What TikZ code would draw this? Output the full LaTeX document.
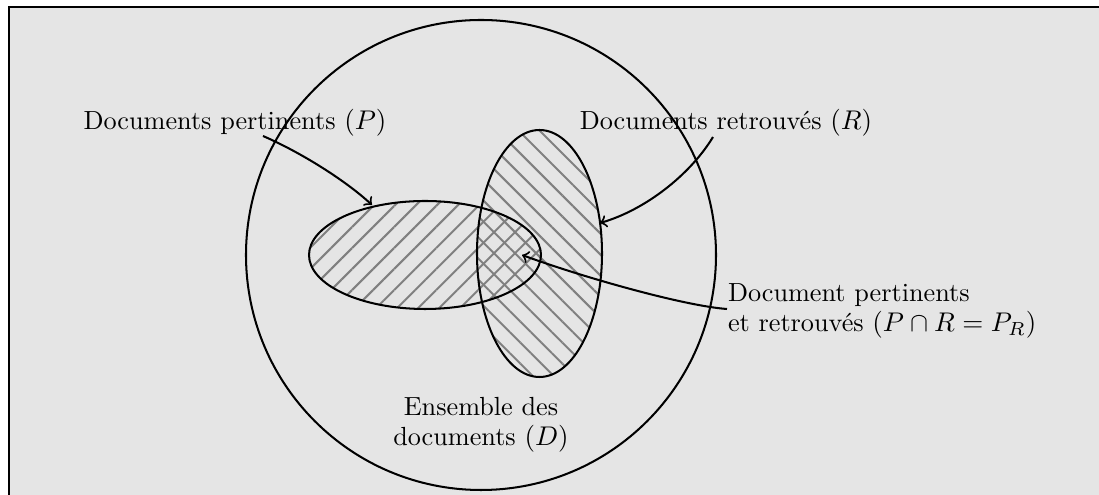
\documentclass[tikz,border=0pt]{standalone}
\usetikzlibrary{patterns.meta}
\definecolor{bggray}{RGB}{229,229,229}
\definecolor{hatch}{RGB}{128,128,128}
\begin{document}
\begin{tikzpicture}[x=0.37pt,y=-0.37pt,line width=0.75pt,
  lbl/.style={inner sep=0pt,font=\fontsize{9.7pt}{11.1pt}\selectfont},
  conn/.style={->,line width=0.75pt},
  hatchP/.style={pattern={Lines[angle=45,distance=5.5pt,line width=0.75pt]},pattern color=hatch},
  hatchR/.style={pattern={Lines[angle=-45,distance=5.5pt,line width=0.75pt]},pattern color=hatch}]
\useasboundingbox (0,0) rectangle (1099,495);
\draw[fill=bggray] (9,7) rectangle (1120,520);
\draw (481,255) circle[radius=235];
\fill[hatchP] (425,255) ellipse[x radius=116,y radius=54];
\fill[hatchR] (539.5,253.5) ellipse[x radius=62.5,y radius=123.5];
\draw (425,255) ellipse[x radius=116,y radius=54];
\draw (539.5,253.5) ellipse[x radius=62.5,y radius=123.5];
\node[lbl] (tp) at (235,123) {Documents pertinents $(P)$};
\node[lbl] (tr) at (726,123) {Documents retrouvés $(R)$};
\node[lbl,align=left,anchor=west] (tpr) at (727,311) {Document pertinents\\et retrouvés $(P\cap R=P_R)$};
\node[lbl,align=center] (td) at (481,425) {Ensemble des\\documents $(D)$};
\coordinate (sp) at (263,136);
\coordinate (ep) at (372,205);
\coordinate (sr) at (713,137);
\coordinate (er) at (600,223);
\coordinate (spr) at (727,309);
\coordinate (epr) at (522,255);
\draw[conn] (sp) .. controls (300,152) and (345,180) .. (ep);
\draw[conn] (sr) .. controls (690,175) and (645,210) .. (er);
\draw[conn] (spr) .. controls (685,306) and (585,278) .. (epr);
\end{tikzpicture}
\end{document}
